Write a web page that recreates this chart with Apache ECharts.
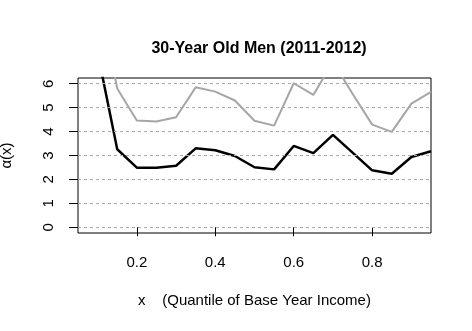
<!DOCTYPE html>
<html>
<head>
<meta charset="utf-8">
<title>30-Year Old Men (2011-2012)</title>
<script src="https://cdn.jsdelivr.net/npm/echarts@6/dist/echarts.min.js"></script>
<style>
    html, body { margin: 0; padding: 0; background: #fff; }
    #main { width: 472px; height: 331px; }
</style>
</head>
<body>
<div id="main"></div>
<script>
// 数据：分位点 x 及两条曲线
var xValues = [0.05, 0.10, 0.15, 0.20, 0.25, 0.30, 0.35, 0.40, 0.45, 0.50,
               0.55, 0.60, 0.65, 0.70, 0.75, 0.80, 0.85, 0.90, 0.95];
var blackValues = [9.0, 7.3, 3.26, 2.49, 2.49, 2.57, 3.30, 3.22, 2.98, 2.51,
                   2.42, 3.40, 3.10, 3.86, 3.12, 2.38, 2.24, 2.94, 3.18];
var grayValues = [12.0, 10.0, 5.80, 4.46, 4.42, 4.60, 5.85, 5.67, 5.30, 4.45,
                  4.25, 6.02, 5.53, 6.92, 5.58, 4.29, 3.99, 5.17, 5.66];
var xTicks = [0.2, 0.4, 0.6, 0.8];
var yTicks = [0, 1, 2, 3, 4, 5, 6];

(function () {
    var myChart = echarts.init(document.getElementById('main'));

    function pairs(ys) {
        return xValues.map(function (x, i) { return [x, ys[i]]; });
    }

    var font = '"Liberation Sans", Arial, sans-serif';

    option = {
        backgroundColor: '#fff',
        animation: false,
        title: {
            text: '30-Year Old Men (2011-2012)',
            left: 254,
            top: 36,
            textAlign: 'center',
            textStyle: { fontFamily: font, fontSize: 16, fontWeight: 'bold', color: '#000' }
        },
        grid: {
            left: 78,
            right: 41,
            top: 78,
            bottom: 98,
            outerBoundsMode: 'none',
            containLabel: false,
            show: true,
            borderColor: '#000',
            borderWidth: 1,
            backgroundColor: 'transparent'
        },
        xAxis: {
            type: 'value',
            min: 0.05,
            max: 0.95,
            name: 'x    (Quantile of Base Year Income)',
            nameLocation: 'middle',
            nameGap: 60,
            nameTextStyle: { fontFamily: font, fontSize: 15, color: '#000' },
            axisLine: { show: false },
            axisTick: { show: true, length: 9, customValues: xTicks, lineStyle: { color: '#000' } },
            axisLabel: {
                customValues: xTicks,
                margin: 22,
                fontFamily: font,
                fontSize: 15,
                color: '#000',
                formatter: function (v) { return v.toFixed(1); }
            },
            splitLine: { show: false }
        },
        yAxis: {
            type: 'value',
            min: -0.24,
            max: 6.24,
            name: 'α(x)',
            nameLocation: 'middle',
            nameGap: 64,
            nameRotate: 90,
            nameTextStyle: { fontFamily: font, fontSize: 15, color: '#000' },
            axisLine: { show: false },
            axisTick: { show: true, length: 9, customValues: yTicks, lineStyle: { color: '#000' } },
            axisLabel: {
                customValues: yTicks,
                rotate: 90,
                margin: 22,
                fontFamily: font,
                fontSize: 15,
                color: '#000'
            },
            splitLine: { show: false }
        },
        series: [
            {
                name: 'gray',
                type: 'line',
                data: pairs(grayValues),
                symbol: 'none',
                clip: true,
                lineStyle: { color: '#a6a6a6', width: 2 },
                // 水平虚线网格
                markLine: {
                    silent: true,
                    symbol: 'none',
                    label: { show: false },
                    lineStyle: { color: '#a8a8a8', type: [3, 3], width: 1 },
                    data: yTicks.map(function (v) { return { yAxis: v }; })
                },
                z: 2
            },
            {
                name: 'black',
                type: 'line',
                data: pairs(blackValues),
                symbol: 'none',
                clip: true,
                lineStyle: { color: '#000', width: 2.5 },
                z: 3
            }
        ]
    };

    myChart.setOption(option);
})();
</script>
</body>
</html>
